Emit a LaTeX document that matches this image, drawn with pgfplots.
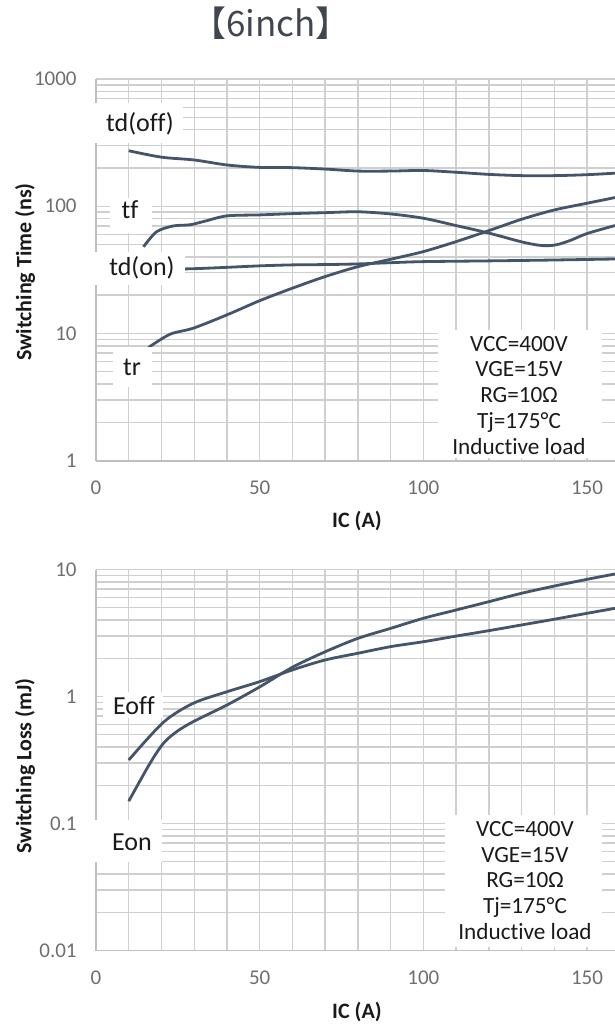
\documentclass[border=0pt]{standalone}
\usepackage{pgfplots}
\pgfplotsset{compat=1.18}
\usepackage{fontspec}
\setmainfont{Carlito}[Ligatures=NoCommon]
\newfontfamily\cjk{Noto Sans CJK JP}
\definecolor{curve}{HTML}{44546A}
\definecolor{gridc}{HTML}{CFCFCF}
\definecolor{axc}{HTML}{BFBFBF}
\definecolor{tickc}{HTML}{6E6E6E}
\definecolor{titlec}{HTML}{3F4650}
\definecolor{txt}{HTML}{1A1A1A}
\tikzset{crv/.style={draw=curve, line width=1.4pt, smooth, mark=none}}

\begin{document}
\begin{tikzpicture}
\useasboundingbox (0pt,0pt) rectangle (307.5pt,-512pt);

% ---------- top axis ----------
\begin{axis}[
  scale only axis, width=259.5pt, height=190.85pt, anchor=north west, at={(48pt,-39.5pt)},
  xmin=0, xmax=158.55, ymode=log, ymin=1, ymax=1000,
  axis x line*=bottom, axis y line*=left,
  axis line style={axc, line width=0.9pt},
  xtick={0,50,100,150}, xticklabels={0,50,100,150},
  minor xtick={10,20,30,40,60,70,80,90,110,120,130,140},
  ytick={1,10,100,1000}, yticklabels={1,10,100,1000},
  minor ytick={2,3,4,5,6,7,8,9,20,30,40,50,60,70,80,90,200,300,400,500,600,700,800,900},
  grid=both,
  major grid style={gridc, line width=0.7pt},
  minor grid style={gridc, line width=0.7pt},
  major tick length=0pt, minor tick length=0pt,
  tick label style={font=\fontsize{10.5}{12}\selectfont, text=tickc},
  xticklabel style={anchor=center}, xticklabel shift=13.5pt,
  yticklabel style={anchor=east, inner sep=0pt}, yticklabel shift=9.5pt,
]
% td(off)
\addplot[crv] coordinates {(10,273) (20,243) (30,231) (40,211) (50,202) (60,201) (70,196) (80,189) (90,189) (100,191) (110,185) (120,178) (130,174) (140,174) (150,177) (158.55,182)};
% tf
\addplot[crv] coordinates {(14.5,48) (18.5,63) (23.6,70) (28.7,71.5) (33,76) (40,84) (50,85.5) (60,87.5) (70,89) (80,90.5) (90,87) (100,80.5) (110,70.5) (120,61.5) (130,52.5) (135,49.5) (138,49) (141,50) (145,54) (150,61) (158.55,70.5)};
% td(on)
\addplot[crv] coordinates {(22,32) (30,32.3) (40,33.1) (50,34) (60,34.6) (70,34.8) (80,35.2) (90,36) (100,36.7) (120,37.2) (140,37.8) (158.55,38.5)};
% tr
\addplot[crv] coordinates {(16,7.75) (22.6,9.86) (29.7,11) (40,14) (50,18.1) (60,22.7) (70,28) (80,33.5) (90,38.3) (100,44) (110,52.7) (120,64.3) (130,79) (140,93.5) (150,105.6) (158.55,117)};
\end{axis}

% ---------- bottom axis ----------
\begin{axis}[
  scale only axis, width=259.5pt, height=190.5pt, anchor=north west, at={(48pt,-284.75pt)},
  xmin=0, xmax=158.55, ymode=log, ymin=0.01, ymax=10,
  axis x line*=bottom, axis y line*=left,
  axis line style={axc, line width=0.9pt},
  xtick={0,50,100,150}, xticklabels={0,50,100,150},
  minor xtick={10,20,30,40,60,70,80,90,110,120,130,140},
  ytick={0.01,0.1,1,10}, yticklabels={0.01,0.1,1,10},
  minor ytick={0.02,0.03,0.04,0.05,0.06,0.07,0.08,0.09,0.2,0.3,0.4,0.5,0.6,0.7,0.8,0.9,2,3,4,5,6,7,8,9},
  grid=both,
  major grid style={gridc, line width=0.7pt},
  minor grid style={gridc, line width=0.7pt},
  major tick length=0pt, minor tick length=0pt,
  tick label style={font=\fontsize{10.5}{12}\selectfont, text=tickc},
  xticklabel style={anchor=center}, xticklabel shift=13.5pt,
  yticklabel style={anchor=east, inner sep=0pt}, yticklabel shift=9.5pt,
]
% Eoff
\addplot[crv] coordinates {(10,0.316) (20.6,0.627) (29.7,0.884) (40,1.09) (50,1.31) (60,1.62) (70,1.94) (80,2.19) (90,2.47) (100,2.70) (110,2.99) (120,3.30) (130,3.66) (140,4.06) (150,4.52) (158.55,4.95)};
% Eon
\addplot[crv] coordinates {(10,0.15) (16.5,0.298) (20.6,0.428) (24.6,0.528) (29.7,0.634) (40,0.857) (50,1.19) (60,1.70) (70,2.25) (80,2.87) (90,3.44) (100,4.13) (110,4.80) (120,5.58) (130,6.50) (140,7.41) (150,8.37) (158.55,9.22)};
\end{axis}

% ---------- annotations (pixel coordinates) ----------
\begin{scope}[x=0.5pt, y=-0.5pt]
\node[font=\cjk\fontsize{17.5}{20}\selectfont, text=titlec] at (271,23) {【6inch】};

% label boxes top
\fill[white] (95,103) rectangle (183,143);
\fill[white] (110,198) rectangle (152,233);
\fill[white] (95,252) rectangle (185,285);
\fill[white] (113,347) rectangle (152,387);
\fill[white] (438,330) rectangle (602,458);
\node[font=\fontsize{13}{15}\selectfont, text=txt] at (140,124) {td(off)};
\node[font=\fontsize{13}{15}\selectfont, text=txt] at (130,210) {tf};
\node[font=\fontsize{13}{15}\selectfont, text=txt] at (142,268) {td(on)};
\node[font=\fontsize{13}{15}\selectfont, text=txt] at (132,367) {tr};
\node[font=\fontsize{11.6}{13}\selectfont, text=txt, anchor=base] at (519,351) {VCC=400V};
\node[font=\fontsize{11.6}{13}\selectfont, text=txt, anchor=base] at (519,376.75) {VGE=15V};
\node[font=\fontsize{11.6}{13}\selectfont, text=txt, anchor=base] at (519,402.5) {RG=10Ω};
\node[font=\fontsize{11.6}{13}\selectfont, text=txt, anchor=base] at (519,428.25) {Tj=175°C};
\node[font=\fontsize{11.6}{13}\selectfont, text=txt, anchor=base] at (519,454) {Inductive load};

% label boxes bottom
\fill[white] (103,692) rectangle (163,718);
\fill[white] (95,820) rectangle (162,862);
\fill[white] (445,815) rectangle (602,947);
\node[font=\fontsize{13}{15}\selectfont, text=txt] at (134,706) {Eoff};
\node[font=\fontsize{13}{15}\selectfont, text=txt] at (132,842) {Eon};
\node[font=\fontsize{11.6}{13}\selectfont, text=txt, anchor=base] at (525,836.5) {VCC=400V};
\node[font=\fontsize{11.6}{13}\selectfont, text=txt, anchor=base] at (525,862.1) {VGE=15V};
\node[font=\fontsize{11.6}{13}\selectfont, text=txt, anchor=base] at (525,887.7) {RG=10Ω};
\node[font=\fontsize{11.6}{13}\selectfont, text=txt, anchor=base] at (525,913.3) {Tj=175°C};
\node[font=\fontsize{11.6}{13}\selectfont, text=txt, anchor=base] at (525,939) {Inductive load};

% axis titles
\node[rotate=90, font=\bfseries\fontsize{11}{13}\selectfont, text=txt] at (25,272) {Switching Time (ns)};
\node[font=\bfseries\fontsize{11}{13}\selectfont, text=txt] at (357,521) {IC (A)};
\node[rotate=90, font=\bfseries\fontsize{11}{13}\selectfont, text=txt] at (25,766) {Switching Loss (mJ)};
\node[font=\bfseries\fontsize{11}{13}\selectfont, text=txt] at (357,1012) {IC (A)};
\end{scope}
\end{tikzpicture}
\end{document}
